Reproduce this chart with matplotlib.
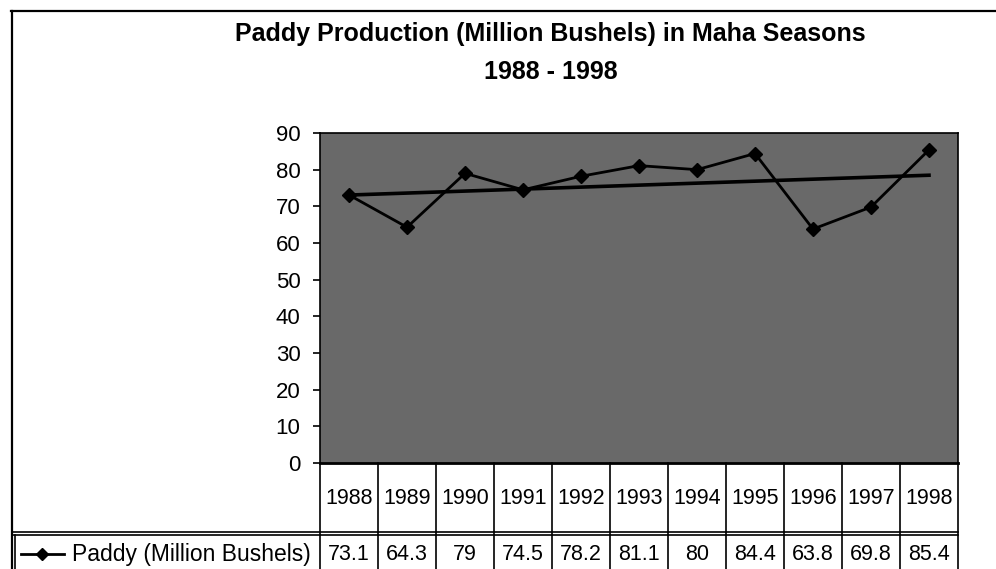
import numpy as np
import matplotlib
matplotlib.use("Agg")
import matplotlib.pyplot as plt
from matplotlib.lines import Line2D

years = ['1988', '1989', '1990', '1991', '1992', '1993', '1994', '1995', '1996', '1997', '1998']
paddy = [73.1, 64.3, 79, 74.5, 78.2, 81.1, 80, 84.4, 63.8, 69.8, 85.4]
value_labels = ['73.1', '64.3', '79', '74.5', '78.2', '81.1', '80', '84.4', '63.8', '69.8', '85.4']
series_name = 'Paddy (Million Bushels)'
title1 = 'Paddy Production (Million Bushels) in Maha Seasons'
title2 = '1988 - 1998'

plt.rcParams['font.family'] = ['Liberation Sans', 'DejaVu Sans']

W, H = 996, 569
fig = plt.figure(figsize=(W / 100, H / 100), dpi=100)

def fx(x):
  return x / W

def fy(y):
  return 1 - y / H

# plot area in pixel coords
L, R, T, B = 320, 958, 133, 463
ax = fig.add_axes([fx(L), fy(B), fx(R) - fx(L), fy(T) - fy(B)])
ax.set_facecolor('#696969')

x = np.arange(len(years))
ax.plot(x, paddy, color='black', lw=2, marker='D', ms=7, zorder=3)

# linear trendline
k, b = np.polyfit(x, paddy, 1)
ax.plot(x, k * x + b, color='black', lw=2.6, zorder=2)

ax.set_xlim(-0.5, len(years) - 0.5)
ax.set_ylim(0, 90)
ax.set_yticks(range(0, 91, 10))
ax.set_xticks([])
ax.tick_params(axis='y', labelsize=16, length=5, width=1.2, pad=9)
for s in ax.spines.values():
  s.set_linewidth(1.2)
ax.spines['bottom'].set_linewidth(2)

fig.text(fx(550), fy(34), title1, ha='center', va='center', fontsize=18, fontweight='bold')
fig.text(fx(551), fy(72), title2, ha='center', va='center', fontsize=18, fontweight='bold')

def line(x0, y0, x1, y1, lw=1.2):
  fig.add_artist(Line2D([fx(x0), fx(x1)], [fy(y0), fy(y1)], color='black', lw=lw))

# outer frame
line(11, 11, 996, 11, 1.6)
line(12, 11, 12, 569, 1.6)

# data table
col_w = (R - L) / len(years)
for i in range(len(years) + 1):
  line(L + i * col_w, B, L + i * col_w, H)
line(12, 532, R, 532)
line(12, 535, R, 535)
line(15, 535, 15, H)

for i, yr in enumerate(years):
  cx = L + (i + 0.5) * col_w
  fig.text(fx(cx), fy(498), yr, ha='center', va='center', fontsize=15.5)
  fig.text(fx(cx), fy(554), value_labels[i], ha='center', va='center', fontsize=15.5)

# legend key in table
line(21, 554, 64, 554, 2)
fig.add_artist(Line2D([fx(42)], [fy(554)], color='black', marker='D', ms=6, lw=0))
fig.text(fx(72), fy(554), series_name, ha='left', va='center', fontsize=16.5)

fig.savefig('out.png', dpi=100)
